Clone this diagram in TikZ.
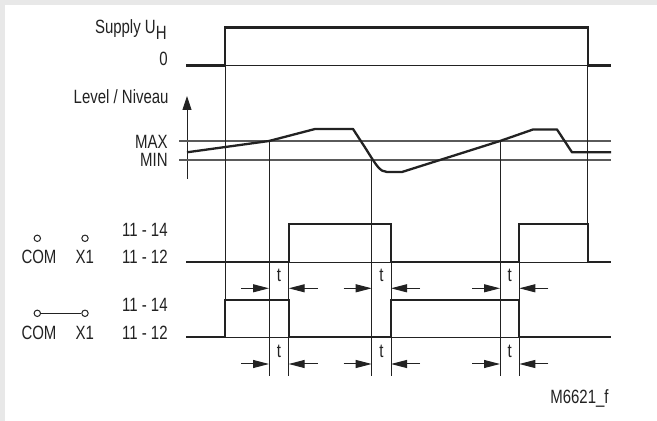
\documentclass[tikz,border=0pt]{standalone}
\usepackage{fontspec}
\setmainfont{Liberation Sans}[FakeStretch=0.78]
\usetikzlibrary{arrows.meta}

\definecolor{panelgrey}{HTML}{E8E8E8}
\definecolor{ink}{HTML}{222222}
\definecolor{guideink}{HTML}{5A5A5A}

\tikzset{
  signal/.style={draw=ink, line width=1.15pt, line join=miter},
  guide/.style={draw=ink, line width=0.45pt},
  limit/.style={draw=guideink, line width=0.55pt},
  dimarrow/.style={draw=ink, line width=0.5pt, -{Triangle[length=8pt,width=4pt]}},
  lbl/.style={inner sep=0pt, font=\fontsize{9.6}{11}\selectfont, text=ink},
  contact/.style={circle, draw=ink, line width=0.5pt, inner sep=0pt, minimum size=3.2pt},
}

\begin{document}
\begin{tikzpicture}[x=0.5pt, y=-0.5pt]
 \useasboundingbox (0,0) rectangle (657,421);
 \fill[panelgrey] (0,0) rectangle (657,421);
 \fill[white] (5,5) rectangle (657,421);

 % labels on the left
 \node[lbl, anchor=base east] (supply) at (167,33.5) {Supply U\raisebox{-3pt}{H}};
 \node[lbl, anchor=base east] (zero) at (168,66) {0};
 \node[lbl, anchor=base east] (level) at (169,104) {Level / Niveau};
 \node[lbl, anchor=base east] (max) at (168,149) {MAX};
 \node[lbl, anchor=base east] (min) at (168,166.5) {MIN};
 \node[lbl, anchor=base east] (onefour) at (168,236.7) {11 - 14};
 \node[lbl, anchor=base east] (onetwo) at (168,263.3) {11 - 12};
 \node[lbl, anchor=base east] (onefourb) at (168,312) {11 - 14};
 \node[lbl, anchor=base east] (onetwob) at (168,340) {11 - 12};
 \node[lbl, anchor=base] (com) at (39,263.3) {COM};
 \node[lbl, anchor=base] (xone) at (84.7,263.3) {X1};
 \node[lbl, anchor=base] (comb) at (39,340) {COM};
 \node[lbl, anchor=base] (xoneb) at (84.7,340) {X1};
 \node[lbl, anchor=base] (code) at (579.5,403) {M6621\_f};

 % contacts open / bridged
 \node[contact] (pcom) at (37.3,238.3) {};
 \node[contact] (pxone) at (85,238.3) {};
 \node[contact] (pcomb) at (37.3,313.3) {};
 \node[contact] (pxoneb) at (85,313.3) {};
 \draw[guide] (pcomb) -- (pxoneb);

 % level axis and limits
 \coordinate (axbot) at (187,179);
 \coordinate (axtop) at (187,96);
 \draw[guide, -{Triangle[length=7pt,width=4.5pt]}] (axbot) -- (axtop);
 \draw[limit] (179,141) -- (611,141);
 \draw[limit] (179,160) -- (611,160);

 % guide lines at the switching instants
 \draw[guide] (225,65.6) -- (225,337);
 \foreach \x/\top in {269/141, 288.7/224, 371.7/160, 391/224, 500/141, 519.3/224}
   \draw[guide] (\x,\top) -- (\x,375.7);
 \draw[guide] (587.7,65.6) -- (587.7,262);
 \draw[guide] (186,65.6) -- (611,65.6);
 \draw[guide] (186,262) -- (611,262);
 \draw[guide] (186,337) -- (611,337);

 % supply
 \draw[signal] (186,65.6) -- (225,65.6) -- (225,27.5) -- (587.7,27.5)
   -- (587.7,65.6) -- (611,65.6);

 % level
 \draw[signal, line join=round] (187,152.3) -- (269,141) -- (315,129) -- (353,129)
   -- (366,149) .. controls (376,165) and (380,172) .. (387,172) -- (402,172)
   -- (500,141) -- (533,129.5) -- (557,129.5) -- (572,152.3) -- (611,152.3);

 % relay, contacts open
 \draw[signal] (186,262) -- (288.7,262) -- (288.7,224) -- (391,224) -- (391,262)
   -- (519.3,262) -- (519.3,224) -- (587.7,224) -- (587.7,262) -- (611,262);

 % relay, contacts bridged
 \draw[signal] (186,337) -- (225,337) -- (225,300) -- (288.7,300) -- (288.7,337)
   -- (391,337) -- (391,300) -- (519.3,300) -- (519.3,337) -- (611,337);

 % delay t
 \foreach \a/\b/\n in {269/288.7/1, 371.7/391/2, 500/519.3/3} {
   \foreach \y/\r in {288.3/a, 364/b} {
     \coordinate (tin\n\r) at (\a,\y);
     \coordinate (tout\n\r) at (\b,\y);
     \coordinate (tl\n\r) at (\a-28,\y);
     \coordinate (tr\n\r) at (\b+29,\y);
     \draw[dimarrow] (tl\n\r) -- (tin\n\r);
     \draw[dimarrow] (tr\n\r) -- (tout\n\r);
   }
   \node[lbl, anchor=base] (t\n a) at ({(\a+\b)/2},281.7) {t};
   \node[lbl, anchor=base] (t\n b) at ({(\a+\b)/2},357.3) {t};
 }
\end{tikzpicture}
\end{document}
